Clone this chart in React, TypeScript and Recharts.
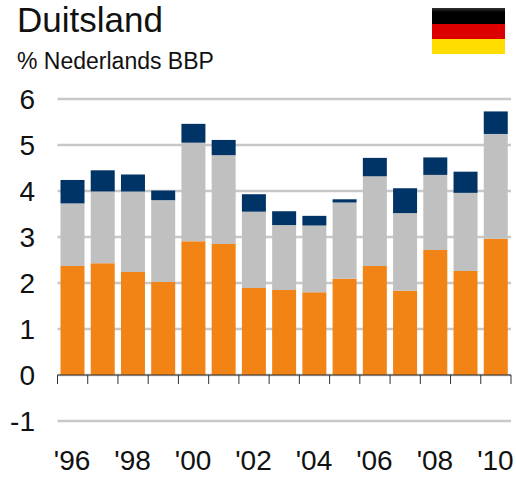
import { BarChart, Bar, XAxis, YAxis, CartesianGrid, ReferenceLine } from "recharts";

const years = ["96", "97", "98", "99", "00", "01", "02", "03", "04", "05", "06", "07", "08", "09", "10"];
const orange = [2.37, 2.43, 2.24, 2.02, 2.91, 2.85, 1.89, 1.85, 1.8, 2.09, 2.37, 1.83, 2.72, 2.26, 2.96];
const gray = [1.36, 1.56, 1.75, 1.78, 2.14, 1.93, 1.66, 1.41, 1.45, 1.66, 1.95, 1.69, 1.63, 1.7, 2.28];
const navy = [0.51, 0.46, 0.37, 0.21, 0.41, 0.33, 0.38, 0.3, 0.21, 0.07, 0.4, 0.54, 0.38, 0.46, 0.49];
const yTicks = [-1, 0, 1, 2, 3, 4, 5, 6];

const data = years.map((year, i) => ({ year, orange: orange[i], gray: gray[i], navy: navy[i] }));

const font = "'Liberation Sans', Arial, sans-serif";
const step = 30.23;

// ticks sit on the zero line, between the years, labels go every second year
function YearTick({ x, index, payload }: any) {
  const left = x - step / 2;
  const right = x + step / 2;
  return (
    <g>
      {index === 0 && <line x1={left} x2={left} y1={375} y2={384} stroke="#333" />}
      <line x1={right} x2={right} y1={375} y2={384} stroke="#333" />
      {index % 2 === 0 && (
        <text x={x - 0.5} y={470} textAnchor="middle" fontSize={28} fontFamily={font} fill="#111">
          {"'" + payload.value}
        </text>
      )}
    </g>
  );
}

function ValueTick({ y, payload }: any) {
  return (
    <text x={35} y={y + 9.5} textAnchor="end" fontSize={28} fontFamily={font} fill="#111">
      {payload.value}
    </text>
  );
}

export default function App() {
  return (
    <div style={{ position: "absolute", left: 0, top: 0, width: 516, height: 477, background: "#fff", fontFamily: font }}>
      <div style={{ position: "absolute", left: 17, top: 0, fontSize: 35, lineHeight: "40px", color: "#111" }}>Duitsland</div>
      <div style={{ position: "absolute", left: 17, top: 48, fontSize: 23, lineHeight: "26px", color: "#111" }}>% Nederlands BBP</div>
      <div style={{ position: "absolute", left: 432, top: 8, width: 73, height: 46 }}>
        <div style={{ height: 15.5, background: "linear-gradient(#333, #000 25%)" }} />
        <div style={{ height: 15, background: "#dd0000" }} />
        <div style={{ height: 15.5, background: "#ffdd00" }} />
      </div>
      <BarChart
        width={516}
        height={477}
        data={data}
        barSize={24}
        margin={{ top: 99, right: 5, bottom: 0, left: 0 }}
        style={{ position: "absolute", left: 0, top: 0 }}
      >
        <CartesianGrid horizontal vertical={false} stroke="#c8c8c8" strokeWidth={2.5} />
        <XAxis dataKey="year" interval={0} height={56} axisLine={false} tickLine={false} tick={<YearTick />} />
        <YAxis
          domain={[-1, 6]}
          ticks={yTicks}
          width={57.5}
          axisLine={false}
          tickLine={false}
          tick={<ValueTick />}
        />
        <Bar dataKey="orange" stackId="a" fill="#f28416" isAnimationActive={false} />
        <Bar dataKey="gray" stackId="a" fill="#c0c0c0" isAnimationActive={false} />
        <Bar dataKey="navy" stackId="a" fill="#003366" isAnimationActive={false} />
        <ReferenceLine y={0} stroke="#333" strokeWidth={1} />
      </BarChart>
    </div>
  );
}
